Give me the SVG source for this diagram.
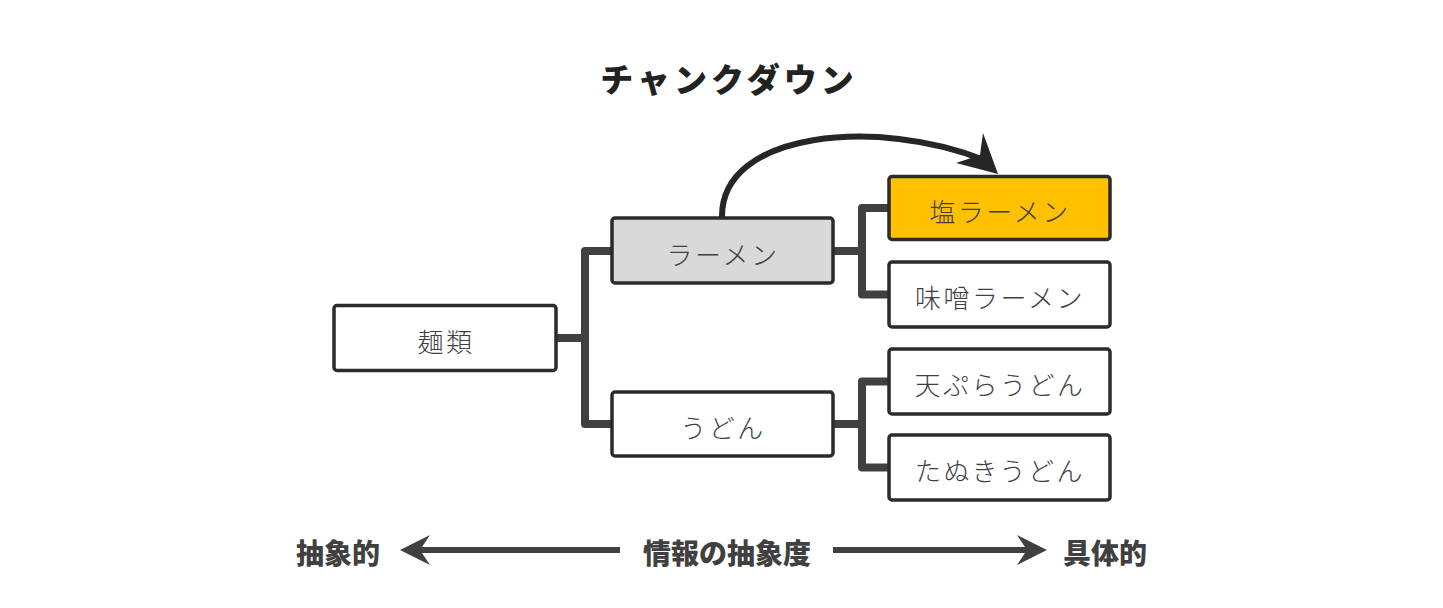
<svg xmlns="http://www.w3.org/2000/svg" width="1443" height="608" viewBox="0 0 1443 608">
<style>
.box{stroke:#2b2b2b;stroke-width:3.5;fill:#ffffff}
.lbl{font-family:"Noto Sans CJK JP","Noto Sans CJK SC",sans-serif;font-size:26px;font-weight:300;letter-spacing:2.5px;fill:#404040;text-anchor:middle;dominant-baseline:central}
.tree{fill:none;stroke:#404040;stroke-width:8;stroke-linejoin:round}
.bold{font-family:"Noto Sans CJK JP","Noto Sans CJK SC",sans-serif;font-weight:900;fill:#404040;text-anchor:middle;dominant-baseline:central}
</style>
<rect width="1443" height="608" fill="#ffffff"/>
<text class="bold" x="729" y="78" font-size="33" letter-spacing="4" style="fill:#222222">チャンクダウン</text>
<g id="connectors">
<path class="tree" d="M556,338 H585 M612,251 H585 V424 H612"/>
<path class="tree" d="M833,251 H862 M889,208 H862 V294.5 H889"/>
<path class="tree" d="M833,424 H862 M889,381.5 H862 V467.5 H889"/>
<path d="M722,218 C720,130 880,118 984,160" fill="none" stroke="#262626" stroke-width="6"/>
<polygon points="998,174 983,133 980,155 956,163" fill="#262626"/>
</g>
<g id="n-menrui"><rect class="box" x="334" y="305.5" width="222" height="65" rx="3"/><text class="lbl" x="446" y="340">麺類</text></g>
<g id="n-ramen"><rect class="box" x="612" y="218" width="221" height="65" rx="3" style="fill:#d9d9d9"/><text class="lbl" x="723" y="253">ラーメン</text></g>
<g id="n-udon"><rect class="box" x="612" y="392" width="221" height="64" rx="3"/><text class="lbl" x="723" y="426">うどん</text></g>
<g id="n-shio"><rect class="box" x="889" y="176.5" width="221" height="63" rx="3" style="fill:#ffc000"/><text class="lbl" x="1000" y="210">塩ラーメン</text></g>
<g id="n-miso"><rect class="box" x="889" y="262" width="221" height="65" rx="3"/><text class="lbl" x="1000" y="296">味噌ラーメン</text></g>
<g id="n-tempura"><rect class="box" x="889" y="349" width="221" height="65" rx="3"/><text class="lbl" x="1000" y="383">天ぷらうどん</text></g>
<g id="n-tanuki"><rect class="box" x="889" y="435" width="221" height="65" rx="3"/><text class="lbl" x="1000" y="469">たぬきうどん</text></g>
<g id="axis">
<text class="bold" x="338" y="552" font-size="28">抽象的</text>
<text class="bold" x="727" y="552" font-size="28">情報の抽象度</text>
<text class="bold" x="1105" y="552" font-size="28">具体的</text>
<path d="M620,550 H418" stroke="#404040" stroke-width="6" fill="none"/>
<polygon points="400,550 430,535 420,550 430,565" fill="#404040"/>
<path d="M833,550 H1030" stroke="#404040" stroke-width="6" fill="none"/>
<polygon points="1047,550 1017,535 1027,550 1017,565" fill="#404040"/>
</g>
</svg>
